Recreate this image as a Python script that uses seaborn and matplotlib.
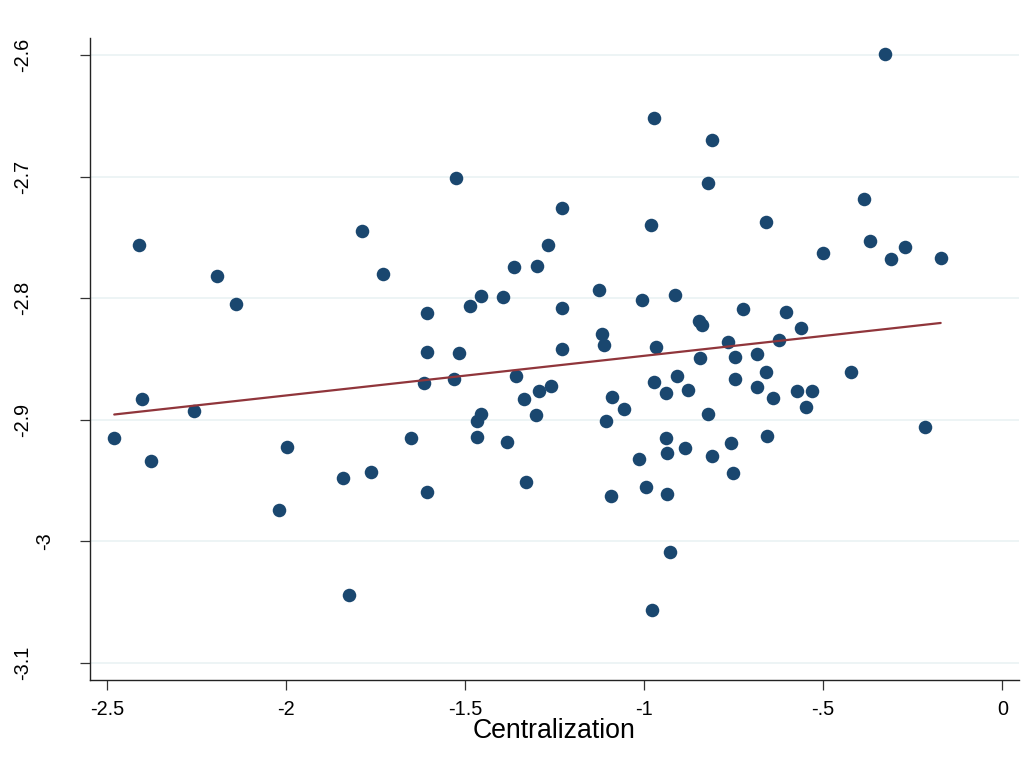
import matplotlib
matplotlib.use("Agg")
import matplotlib.pyplot as plt
import seaborn as sns
import pandas as pd
import numpy as np

# ---- data ----
centralization = [
    -2.411, -2.191, -2.138, -1.786, -1.728, -0.973, -0.811, -1.524, -0.821, -1.230,
    -0.980, -1.267, -1.363, -1.299, -1.126, -1.455, -1.393, -1.005, -0.913, -1.485,
    -1.606, -1.230, -0.846, -0.837, -1.118, -1.111, -1.606, -1.516, -1.230, -0.968,
    -0.844, -0.327, -0.385, -0.660, -0.500, -0.369, -0.271, -0.310, -0.172, -0.723,
    -0.604, -0.561, -0.765, -0.623, -0.745, -0.685, -2.401, -2.256, -2.479, -2.377,
    -1.998, -2.020, -1.841, -1.763, -1.824, -1.650, -1.613, -1.530, -1.357, -1.334,
    -1.293, -1.260, -1.455, -1.467, -1.467, -1.383, -1.302, -1.330, -1.606, -1.089,
    -1.056, -1.105, -0.972, -0.907, -0.940, -0.876, -0.821, -0.939, -0.935, -0.886,
    -0.811, -1.015, -0.994, -0.935, -1.092, -0.927, -0.978, -0.660, -0.745, -0.684,
    -0.640, -0.573, -0.530, -0.549, -0.421, -0.216, -0.657, -0.758, -0.751,
]
outcome = [
    -2.756, -2.782, -2.805, -2.745, -2.780, -2.652, -2.670, -2.701, -2.705, -2.726,
    -2.740, -2.756, -2.774, -2.773, -2.793, -2.798, -2.799, -2.801, -2.797, -2.806,
    -2.812, -2.808, -2.819, -2.822, -2.829, -2.838, -2.844, -2.845, -2.842, -2.840,
    -2.849, -2.599, -2.718, -2.737, -2.763, -2.753, -2.758, -2.768, -2.767, -2.809,
    -2.811, -2.824, -2.836, -2.834, -2.848, -2.846, -2.883, -2.893, -2.915, -2.934,
    -2.922, -2.974, -2.948, -2.943, -3.044, -2.915, -2.870, -2.866, -2.864, -2.883,
    -2.876, -2.872, -2.895, -2.901, -2.914, -2.918, -2.896, -2.951, -2.959, -2.881,
    -2.891, -2.901, -2.869, -2.864, -2.878, -2.875, -2.895, -2.915, -2.927, -2.923,
    -2.930, -2.932, -2.955, -2.961, -2.963, -3.009, -3.056, -2.861, -2.866, -2.873,
    -2.882, -2.876, -2.876, -2.889, -2.861, -2.906, -2.913, -2.919, -2.944,
]
x_ticks = [-2.5, -2.0, -1.5, -1.0, -0.5, 0.0]
x_tick_labels = ["-2.5", "-2", "-1.5", "-1", "-.5", "0"]
y_ticks = [-2.6, -2.7, -2.8, -2.9, -3.0, -3.1]
y_tick_labels = ["-2.6", "-2.7", "-2.8", "-2.9", "-3", "-3.1"]
x_label = "Centralization"

df = pd.DataFrame({"Centralization": centralization, "y": outcome})

sns.set_theme(style="white")
plt.rcParams["font.family"] = ["Liberation Sans", "DejaVu Sans"]
plt.rcParams["axes.unicode_minus"] = False

W, H = 1035, 774
fig = plt.figure(figsize=(W / 100, H / 100), dpi=100)
fig.patch.set_facecolor("white")
left_px, right_px, top_px, bottom_px = 89.7, 1019.3, 38.0, 680.0
ax = fig.add_axes([left_px / W, 1 - bottom_px / H,
                   (right_px - left_px) / W, (bottom_px - top_px) / H])

dot_color = "#1a476f"
line_color = "#90353b"

sns.scatterplot(data=df, x="Centralization", y="y", ax=ax, color=dot_color,
                s=95, linewidth=0, zorder=3)
sns.regplot(data=df, x="Centralization", y="y", ax=ax, scatter=False, ci=None,
            truncate=True, line_kws={"color": line_color, "linewidth": 1.6, "zorder": 4})

ax.set_xlim(-2.5475, 0.0475)
ax.set_ylim(-3.114, -2.5858)

ax.set_xticks(x_ticks, x_tick_labels)
ax.set_yticks(y_ticks, y_tick_labels)

ax.grid(False)
ax.yaxis.grid(True, color="#eaf2f3", linewidth=1.2, zorder=0)
ax.set_axisbelow(True)

for s in ["top", "right"]:
    ax.spines[s].set_visible(False)
for s in ["left", "bottom"]:
    ax.spines[s].set_color("#222222")
    ax.spines[s].set_linewidth(1.0)

ax.tick_params(axis="x", bottom=True, direction="out", length=7.2, width=0.9,
               color="#333333", labelsize=14.3, pad=7.5, labelcolor="black")
ax.tick_params(axis="y", left=True, direction="out", length=7.2, width=0.9,
               color="#333333", labelsize=14.3, pad=40.8, labelcolor="black")
for lab in ax.get_yticklabels():
    lab.set_rotation(90)
    lab.set_ha("center")
    lab.set_va("center")
    if lab.get_text() == "-3":
        lab.set_x(21.5 / (right_px - left_px))

ax.set_xlabel(x_label, fontsize=19.2, color="black", labelpad=-1.0)
ax.set_ylabel("")

fig.savefig("out.png", dpi=100, facecolor="white")
